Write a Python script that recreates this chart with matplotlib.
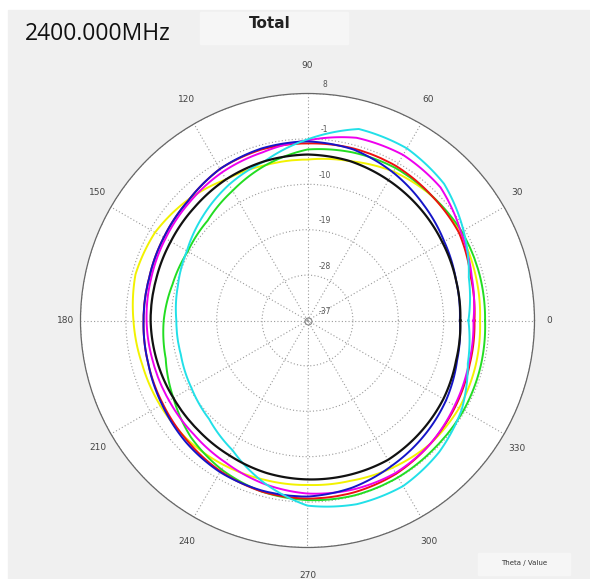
import numpy as np
import matplotlib.pyplot as plt
from matplotlib.patches import Rectangle

# Gain in dB, read every 15 degrees (0..345)
angles_deg = list(range(0, 360, 15))
black = [-6.7, -6.5, -6.1, -5.5, -4.9, -4.3, -4.1, -4.3, -4.7, -5.3, -5.7, -5.9,
         -5.9, -6.1, -6.3, -6.3, -6.1, -5.7, -5.5, -5.3, -5.1, -5.5, -5.9, -6.5]
blue = [-6.8, -6.5, -5.7, -4.5, -3.1, -1.9, -1.5, -1.7, -2.3, -3.5, -4.1, -4.5,
        -4.5, -4.3, -3.7, -2.9, -2.3, -2.1, -2.1, -2.7, -3.7, -4.5, -5.3, -6.3]
red = [-3.9, -3.5, -2.3, -2.1, -1.7, -1.7, -1.9, -1.9, -2.3, -3.5, -4.1, -4.5,
       -4.5, -4.3, -3.9, -3.3, -2.5, -1.9, -1.7, -1.7, -1.9, -2.5, -3.1, -3.7]
magenta = [-4.1, -3.3, -1.9, 0.3, 0.9, 0.5, -1.3, -2.5, -3.1, -3.9, -4.5, -4.9,
           -5.1, -5.3, -5.3, -5.1, -4.5, -3.5, -2.7, -2.3, -2.1, -2.5, -3.3, -3.9]
cyan = [-5.1, -3.9, -1.3, 1.3, 2.4, 2.3, -1.1, -4.3, -5.9, -7.7, -9.4, -10.4,
        -11.0, -11.0, -10.4, -9.4, -7.3, -3.7, -0.3, 0.7, 0.9, -0.1, -1.7, -4.1]
green = [-1.8, -1.7, -1.7, -2.1, -2.1, -2.5, -3.1, -5.1, -7.3, -9.0, -9.6, -9.3,
         -8.5, -7.9, -6.3, -4.3, -2.9, -1.9, -1.4, -1.1, -1.1, -1.3, -1.3, -1.5]
yellow = [-2.8, -2.5, -2.1, -2.1, -2.9, -4.3, -5.1, -5.1, -4.7, -3.3, -2.1, -1.7,
          -2.5, -3.1, -3.3, -3.5, -3.9, -4.3, -4.4, -4.1, -3.3, -2.5, -2.3, -2.5]

r_ticks = [-37, -28, -19, -10, -1, 8]
theta_labels = list(range(0, 360, 30))

W, H = 590, 579
fig = plt.figure(figsize=(W / 100, H / 100), dpi=100)
fig.patch.set_facecolor('white')
fig.add_artist(Rectangle((8 / W, 0), 1, 1 - 10 / H, transform=fig.transFigure,
                         color='#f0f0f0', zorder=0))
# light boxes behind title and footer
fig.add_artist(Rectangle((200 / W, 1 - 44 / H), 148 / W, 32 / H, transform=fig.transFigure,
                         color='#f6f6f6', zorder=0.5))
fig.add_artist(Rectangle((478 / W, 1 - 575 / H), 92 / W, 22 / H, transform=fig.transFigure,
                         color='#f6f6f6', zorder=0.5))

cx, cy, R = 307.5, 320.5, 227
ax = fig.add_axes([(cx - R) / W, (H - cy - R) / H, 2 * R / W, 2 * R / H], projection='polar')
ax.set_facecolor('white')

th = np.deg2rad(angles_deg + [360])
series = [(yellow, '#f2f200', 1.4), (green, '#22dd22', 1.4), (red, '#ee1111', 1.4),
          (magenta, '#ee00ee', 1.4), (blue, '#1515c8', 1.4), (cyan, '#22e0e8', 1.4),
          (black, '#111111', 1.6)]
for vals, col, lw in series:
    line, = ax.plot(th, vals + vals[:1], color=col, lw=lw)
    # let the polar transform draw each segment as an arc instead of a chord
    line.get_path()._interpolation_steps = 30

ax.set_ylim(-37, 8)
ax.set_yticks(r_ticks)
ax.set_yticklabels([])
ax.set_xticks(np.deg2rad(theta_labels))
ax.set_xticklabels([])
ax.grid(True, color='#9a9a9a', linestyle=(0, (1, 2)), linewidth=0.8)
ax.spines['polar'].set_color('#666666')
ax.spines['polar'].set_linewidth(0.9)
ax.plot(0, -37, 'o', mfc='none', mec='#888888', ms=5, mew=0.8)

for v in r_ticks:
    ax.annotate(str(v), xy=(np.pi / 2, v), xytext=(12.5, 6.5), textcoords='offset points',
                ha='center', va='center', fontsize=5.5, color='#555555')

for a in theta_labels:
    x = cx + 242 * np.cos(np.deg2rad(a))
    y = cy - 255 * np.sin(np.deg2rad(a))
    fig.text(x / W, 1 - y / H, str(a), ha='center', va='center', fontsize=6.5, color='#444444')

fig.text(270 / W, 1 - 24 / H, 'Total', ha='center', va='center', fontsize=11, fontweight='bold',
         color='#222222')
fig.text(25 / W, 1 - 34 / H, '2400.000MHz', ha='left', va='center', fontsize=16.5,
         family='Open Sans', color='#111111')
fig.text(524 / W, 1 - 563 / H, 'Theta / Value', ha='center', va='center', fontsize=5,
         color='#333333')

plt.savefig('out.png', dpi=100)
